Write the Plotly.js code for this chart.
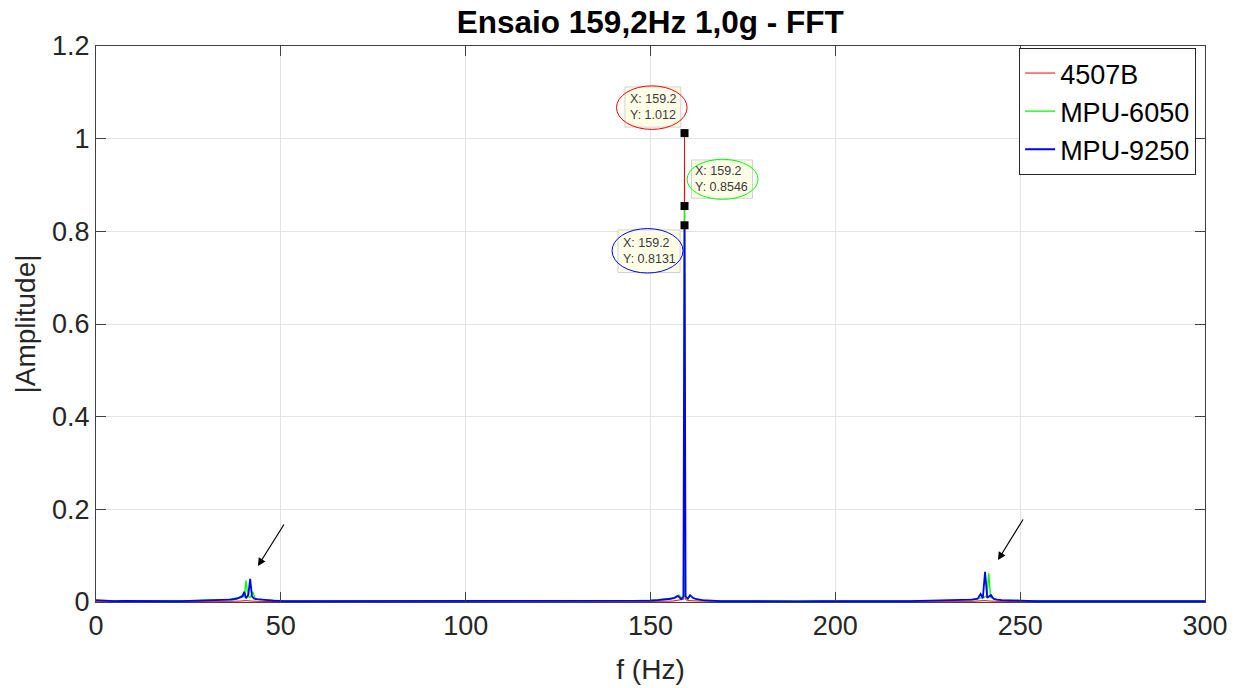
<!DOCTYPE html>
<html>
<head>
<meta charset="utf-8">
<script src="https://cdn.plot.ly/plotly-3.0.1.min.js"></script>
<style>html,body{margin:0;padding:0;background:#fff;}#chart{width:1244px;height:688px;}</style>
</head>
<body>
<div id="chart"></div>
<script>
// ---- data ----
const seriesNames = ['4507B', 'MPU-6050', 'MPU-9250'];

const freq4507 = [0, 10, 20, 30, 36, 39, 40.6, 42, 45, 55,
  70, 90, 110, 130, 145, 152, 156, 158.4, 159.0, 159.2,
  159.4, 160, 162.5, 167, 180, 200, 220, 232, 237, 240.5,
  242, 246, 255, 270, 285, 300];
const amp4507 = [0.001, 0.0008, 0.0008, 0.001, 0.0015, 0.002, 0.003, 0.002, 0.0012, 0.0008,
  0.0007, 0.0007, 0.0007, 0.0008, 0.001, 0.0015, 0.002, 0.004, 0.006, 1.012,
  0.006, 0.003, 0.002, 0.0012, 0.0008, 0.0007, 0.0007, 0.001, 0.0015, 0.003,
  0.002, 0.0012, 0.0008, 0.0007, 0.0007, 0.0007];

const freq6050 = [0, 3, 6, 10, 14, 18, 22, 26, 29, 32,
  34, 36, 37.5, 38.8, 39.6, 40.1, 40.6, 41.1, 41.7, 42.4,
  43, 43.8, 45, 47, 50, 55, 62, 70, 80, 90,
  100, 110, 120, 130, 138, 145, 150, 153, 155, 156.5,
  157.7, 158.5, 159.0, 159.2, 159.4, 160, 160.8, 161.8, 163, 165,
  168, 172, 180, 190, 200, 210, 220, 228, 233, 236,
  238, 239.5, 240.3, 241, 241.5, 242, 242.7, 243.5, 245, 247,
  250, 255, 262, 270, 280, 290, 300];
const amp6050 = [0.003, 0.003, 0.002, 0.002, 0.002, 0.002, 0.002, 0.003, 0.004, 0.004,
  0.005, 0.006, 0.008, 0.010, 0.015, 0.010, 0.046, 0.012, 0.010, 0.022,
  0.008, 0.006, 0.005, 0.004, 0.003, 0.002, 0.002, 0.002, 0.002, 0.002,
  0.002, 0.002, 0.002, 0.002, 0.003, 0.003, 0.004, 0.005, 0.007, 0.010,
  0.015, 0.008, 0.012, 0.8546, 0.010, 0.008, 0.013, 0.007, 0.005, 0.003,
  0.002, 0.002, 0.002, 0.002, 0.002, 0.002, 0.002, 0.003, 0.004, 0.005,
  0.006, 0.009, 0.010, 0.014, 0.062, 0.010, 0.008, 0.006, 0.004, 0.003,
  0.003, 0.002, 0.002, 0.002, 0.002, 0.002, 0.002];

const freq9250 = [0, 2, 5, 8, 11, 14, 17, 20, 23, 26,
  29, 31, 33, 35, 36.5, 38, 39, 39.6, 40.1, 40.6,
  41.2, 41.7, 42.2, 42.8, 43.5, 44.5, 46, 48, 51, 55,
  60, 66, 72, 78, 84, 90, 96, 102, 108, 114,
  120, 126, 132, 138, 143, 147, 150, 152, 154, 155.5,
  156.5, 157.4, 158.3, 158.9, 159.2, 159.5, 160.1, 160.7, 161.5, 162.5,
  164, 166, 169, 173, 178, 184, 190, 196, 202, 208,
  214, 220, 225, 229, 232, 235, 237, 238.5, 239.3, 239.9,
  240.5, 241.1, 241.6, 242.1, 242.8, 243.6, 245, 247, 250, 254,
  259, 265, 271, 277, 283, 289, 295, 300];
const amp9250 = [0.004, 0.003, 0.002, 0.0025, 0.002, 0.002, 0.0025, 0.002, 0.002, 0.0025,
  0.003, 0.003, 0.004, 0.004, 0.005, 0.007, 0.010, 0.012, 0.022, 0.008,
  0.015, 0.050, 0.012, 0.007, 0.006, 0.005, 0.004, 0.003, 0.002, 0.002,
  0.0015, 0.002, 0.0015, 0.002, 0.0015, 0.002, 0.0015, 0.002, 0.0015, 0.002,
  0.0015, 0.002, 0.002, 0.002, 0.002, 0.0025, 0.003, 0.004, 0.005, 0.007,
  0.009, 0.013, 0.006, 0.012, 0.8131, 0.012, 0.007, 0.015, 0.009, 0.006,
  0.004, 0.003, 0.002, 0.002, 0.0015, 0.002, 0.0015, 0.002, 0.0015, 0.002,
  0.002, 0.002, 0.0025, 0.003, 0.003, 0.004, 0.005, 0.007, 0.017, 0.008,
  0.065, 0.009, 0.012, 0.015, 0.007, 0.005, 0.004, 0.003, 0.003, 0.002,
  0.002, 0.0015, 0.002, 0.0015, 0.002, 0.0015, 0.002, 0.002];

// data tips
const tipX = [159.2, 159.2, 159.2];
const tipY = [1.012, 0.8546, 0.8131];

const xTicks = [0, 50, 100, 150, 200, 250, 300];
const yTicks = [0, 0.2, 0.4, 0.6, 0.8, 1, 1.2];

// ---- styling ----
const FONT = 'Liberation Sans, Arial, Helvetica, sans-serif';
const colors = ['#FF0000', '#00FF00', '#0000FF'];
const widths = [1, 1.4, 1.8];
const xs = [freq4507, freq6050, freq9250];
const ys = [amp4507, amp6050, amp9250];

const traces = seriesNames.map((n, i) => ({
  type: 'scatter', mode: 'lines', name: n,
  x: xs[i], y: ys[i],
  line: {color: colors[i], width: widths[i]},
  hoverinfo: 'x+y'
}));
traces.push({
  type: 'scatter', mode: 'markers', x: tipX, y: tipY, showlegend: false,
  marker: {symbol: 'square', size: 8, color: '#000000', line: {color: '#000', width: 0}}
});

// tip box / text positions (data coords) and ellipse extents
const tipTextPos = [[150.7, 1.068], [169.3, 0.913], [149.6, 0.7576]];
const tipBoxes = [
  {x0: 143.1, x1: 158.2, y0: 1.025, y1: 1.1116},
  {x0: 161.1, x1: 177.6, y0: 0.8714, y1: 0.954},
  {x0: 141.2, x1: 158.0, y0: 0.711, y1: 0.803}
];
const ellipses = [
  {x0: 140.8, x1: 159.9, y0: 1.020, y1: 1.114},
  {x0: 159.9, x1: 179.1, y0: 0.869, y1: 0.9555},
  {x0: 139.6, x1: 158.8, y0: 0.710, y1: 0.806}
];

const annotations = tipX.map((x, i) => ({
  x: tipTextPos[i][0], y: tipTextPos[i][1], xref: 'x', yref: 'y',
  text: 'X: ' + x + '<br>Y: ' + tipY[i],
  showarrow: false, align: 'left',
  font: {family: FONT, size: 12.5, color: '#3a3a3a'}
}));
// arrows
annotations.push({x: 43.8, y: 0.0777, xref: 'x', yref: 'y', ax: 27, ay: -43, text: '',
  showarrow: true, arrowhead: 2, arrowsize: 1.3, arrowwidth: 1.2, arrowcolor: '#000'});
annotations.push({x: 244.0, y: 0.0907, xref: 'x', yref: 'y', ax: 26, ay: -42, text: '',
  showarrow: true, arrowhead: 2, arrowsize: 1.3, arrowwidth: 1.2, arrowcolor: '#000'});

const shapes = tipBoxes.map(b => ({
  type: 'rect', xref: 'x', yref: 'y', x0: b.x0, x1: b.x1, y0: b.y0, y1: b.y1, layer: 'above',
  fillcolor: '#FFFFE8', line: {color: '#D0D0D0', width: 1}
})).concat(ellipses.map((e, i) => ({
  type: 'circle', xref: 'x', yref: 'y', x0: e.x0, x1: e.x1, y0: e.y0, y1: e.y1, layer: 'above',
  line: {color: colors[i], width: 1}
})));

const axisCommon = {
  showgrid: true, gridcolor: '#E3E3E3', gridwidth: 1, zeroline: false,
  showline: true, linecolor: '#404040', linewidth: 1, mirror: 'ticks',
  ticks: 'inside', ticklen: 10, tickcolor: '#404040', tickwidth: 1,
  tickfont: {family: FONT, size: 27, color: '#262626'}
};

const layout = {
  width: 1244, height: 688,
  margin: {l: 96, r: 39, t: 46, b: 86, pad: 0},
  paper_bgcolor: '#FFFFFF', plot_bgcolor: '#FFFFFF',
  font: {family: FONT, color: '#262626'},
  title: {text: 'Ensaio 159,2Hz 1,0g - FFT', x: 0.5227, xanchor: 'center', y: 0.968, yref: 'container', yanchor: 'middle',
    font: {family: FONT, size: 31.5, weight: 'bold', color: '#000'}},
  xaxis: Object.assign({}, axisCommon, {
    range: [0, 300], tickvals: xTicks, ticktext: xTicks.map(String),
    title: {text: 'f (Hz)', font: {family: FONT, size: 28, color: '#262626'}, standoff: 18}
  }),
  yaxis: Object.assign({}, axisCommon, {
    range: [0, 1.2], tickvals: yTicks, ticktext: yTicks.map(String),
    title: {text: '|Amplitude|', font: {family: FONT, size: 28, color: '#262626'}, standoff: 8}
  }),
  legend: {
    x: 0.992, y: 0.9964, xanchor: 'right', yanchor: 'top',
    bgcolor: '#FFFFFF', bordercolor: '#262626', borderwidth: 1,
    font: {family: FONT, size: 27, color: '#000'}, itemwidth: 30
  },
  showlegend: true,
  annotations: annotations,
  shapes: shapes
};

Plotly.newPlot('chart', traces, layout, {displayModeBar: false, staticPlot: true});
</script>
</body>
</html>
